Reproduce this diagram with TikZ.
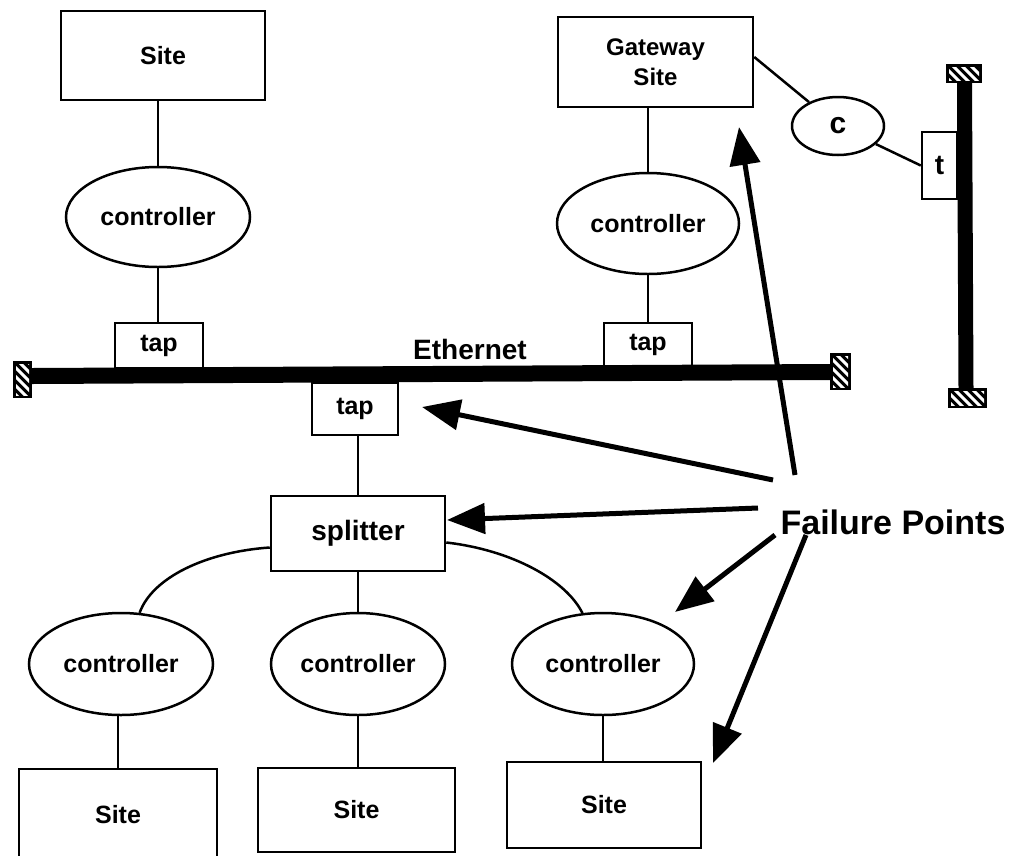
\documentclass[tikz,border=0pt]{standalone}
\usepackage{fontspec}
\setmainfont{Liberation Sans}
\usetikzlibrary{shapes.geometric,arrows.meta,calc}
\begin{document}
\begin{tikzpicture}[x=1pt,y=-1pt,
  lbl/.style={font=\fontsize{25}{28}\selectfont\bfseries},
  box/.style={draw, rectangle, line width=2.5pt, inner sep=0pt, lbl},
  ctl/.style={draw, ellipse, line width=2.5pt, inner sep=0pt, lbl},
  conn/.style={line width=2.5pt},
  bar/.style={line width=16pt},
  fparrow/.style={line width=5pt, -{Triangle[length=38pt,width=30pt]}}
]
\useasboundingbox (0,0) rectangle (1012,855);
\clip (0,0) rectangle (1012,855);

% top-left site chain
\node[box, minimum width=204pt, minimum height=89pt] (site1) at (163,55.5) {Site};
\node[ctl, minimum width=184pt, minimum height=100pt] (ctrl1) at (158,217) {controller};
\node[box, minimum width=88pt, minimum height=45pt] (tap1) at (159,345.5) {tap};
\draw[conn] (ctrl1.north) -- (ctrl1.north |- site1.south);
\draw[conn] (ctrl1.south) -- (ctrl1.south |- tap1.north);

% gateway chain
\node[box, minimum width=195pt, minimum height=90pt, align=center,
      font=\fontsize{24}{30}\selectfont\bfseries] (gw) at (655.5,62) {Gateway\\Site};
\node[ctl, minimum width=182pt, minimum height=101pt] (ctrl2) at (648,223.5) {controller};
\node[box, minimum width=88pt, minimum height=43pt] (tap2) at (648,344.5) {tap};
\draw[conn] (ctrl2.north) -- (ctrl2.north |- gw.south);
\draw[conn] (ctrl2.south) -- (ctrl2.south |- tap2.north);

% c and t
\node[ctl, minimum width=92pt, minimum height=58pt, font=\fontsize{30}{32}\selectfont\bfseries] (c) at (838,126) {c};
\node[box, minimum width=35pt, minimum height=67pt, font=\fontsize{28}{30}\selectfont\bfseries] (t) at (939.5,165.5) {t};
\draw[conn] ([yshift=5pt]gw.east) -- (c);
\draw[conn] (c) -- (t.west);

% ethernet bar and caps
\coordinate (eL) at (32,376);
\coordinate (eR) at (830,372);
\draw[bar] (eL) -- (eR);
\node[lbl, font=\fontsize{28}{30}\selectfont\bfseries] (eth) at (470,349) {Ethernet};

% vertical bar
\coordinate (vT) at (964.5,83);
\coordinate (vB) at (966,388);
\draw[line width=15pt] (vT) -- (vB);

\foreach \xa/\ya/\xb/\yb in {13/361/32/398, 830/353/851/390, 946/64/982/83, 948/388/987/408}{
  \fill[black] (\xa,\ya) rectangle (\xb,\yb);
  \begin{scope}
    \clip (\xa+3,\ya+3) rectangle (\xb-3,\yb-3);
    \foreach \s in {-40,-31,...,40} \draw[white,line width=3pt] (\xa+\s,\ya) -- ++(40,40);
  \end{scope}
}

% lower tap and splitter
\node[box, minimum width=86pt, minimum height=52pt] (tap3) at (355,409) {tap};
\node[box, minimum width=174pt, minimum height=75pt, font=\fontsize{28}{30}\selectfont\bfseries] (spl) at (358,533.5) {splitter};
\draw[conn] (spl.north) -- (spl.north |- tap3.south);

% lower controllers
\node[ctl, minimum width=184pt, minimum height=102pt] (ctrl3) at (121,664) {controller};
\node[ctl, minimum width=174pt, minimum height=102pt] (ctrl4) at (358,664) {controller};
\node[ctl, minimum width=182pt, minimum height=102pt] (ctrl5) at (603,664) {controller};
\draw[conn] (spl.south) -- (ctrl4.north);
\draw[conn] ([yshift=-14pt]spl.west) .. controls (205,552) and (152,578) .. (ctrl3.70);
\draw[conn] ([yshift=-9pt]spl.east) .. controls (512,550) and (566,580) .. (ctrl5.112);

% lower sites
\node[box, minimum width=198pt, minimum height=92pt] (site3) at (118,815) {Site};
\node[box, minimum width=197pt, minimum height=84pt] (site4) at (356.5,810) {Site};
\node[box, minimum width=194pt, minimum height=86pt] (site5) at (604,805) {Site};
\draw[conn] (ctrl3.south -| site3.north) -- (site3.north);
\draw[conn] (ctrl4.south) -- (ctrl4.south |- site4.north);
\draw[conn] (ctrl5.south) -- (ctrl5.south |- site5.north);

% failure points
\node[font=\fontsize{34}{38}\selectfont\bfseries] (fp) at (893,522) {Failure Points};
\coordinate (f1) at (795,475);
\coordinate (a1) at (739,127);
\coordinate (f2) at (773,480);
\coordinate (a2) at (422,407);
\coordinate (f3) at (758,508);
\coordinate (a3) at (447,520);
\coordinate (f4) at (775,535);
\coordinate (a4) at (675,612);
\coordinate (f5) at (806,535);
\coordinate (a5) at (713,763);
\draw[fparrow] (f1) -- (a1);
\draw[fparrow] (f2) -- (a2);
\draw[fparrow] (f3) -- (a3);
\draw[fparrow] (f4) -- (a4);
\draw[fparrow] (f5) -- (a5);
\end{tikzpicture}
\end{document}
